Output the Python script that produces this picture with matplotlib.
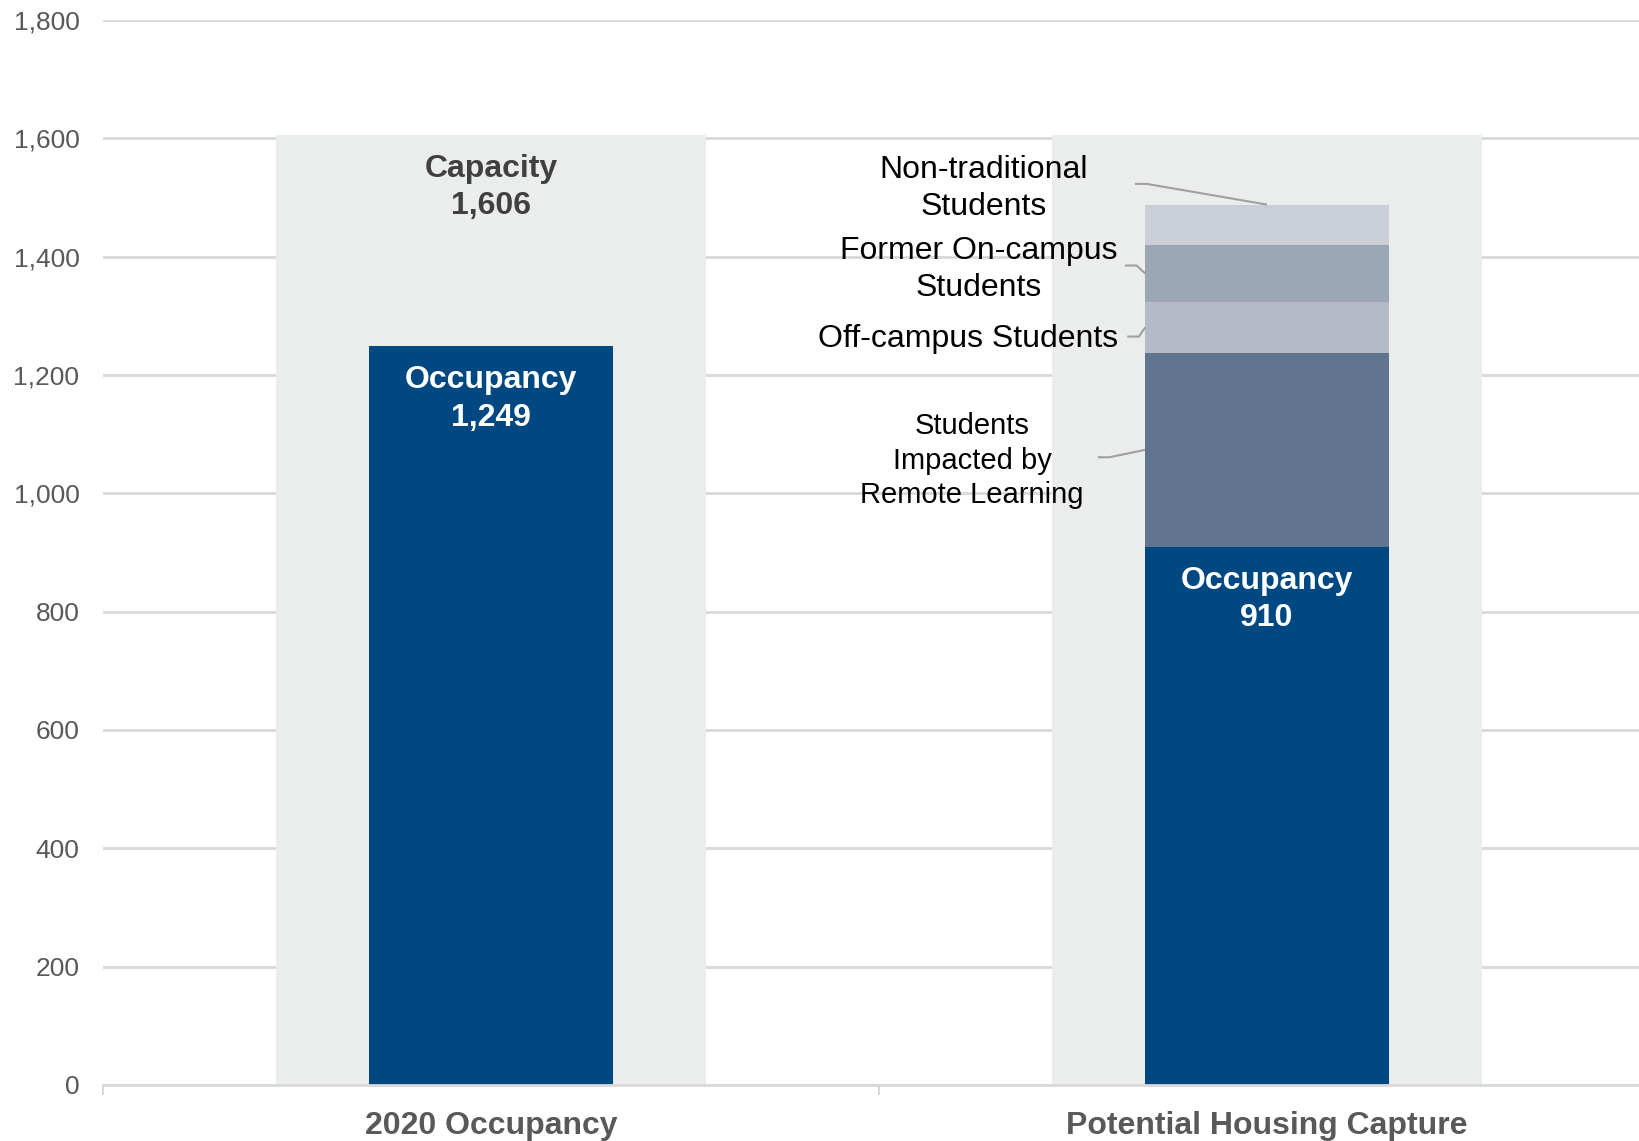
import numpy as np
import matplotlib.pyplot as plt
from matplotlib.ticker import FuncFormatter

plt.rcParams['font.family'] = ['Liberation Sans', 'DejaVu Sans']

categories = ["2020 Occupancy", "Potential Housing Capture"]
capacity = [1606, 1606]
occupancy = [1249, 910]

# extra segments stacked on the second bar
segment_names = ["Students\nImpacted by\nRemote Learning", "Off-campus Students",
                 "Former On-campus\nStudents", "Non-traditional\nStudents"]
segment_values = [327, 87, 95, 69]
segment_colors = ["#617590", "#B5BBC6", "#9BA7B4", "#CACFD7"]

blue = "#004882"
bg_gray = "#EBECEC"
grid_gray = "#D9D9D9"
text_gray = "#595959"

fig = plt.figure(figsize=(16.4, 11.41), dpi=100)
ax = fig.add_axes([103 / 1640, 56 / 1141, (1655 - 103) / 1640, 0.9334])

x = np.arange(len(categories))
bg_width = 0.554
bar_width = 0.314

ax.bar(x, capacity, width=bg_width, color=bg_gray, zorder=1)
ax.bar(x, occupancy, width=bar_width, color=blue, zorder=2)

bottom = occupancy[1]
seg_mids = []
for val, col in zip(segment_values, segment_colors):
    ax.bar(x[1], val, bottom=bottom, width=bar_width, color=col, zorder=2)
    seg_mids.append(bottom + val / 2)
    bottom += val
stack_top = bottom

# labels on bars
ax.annotate(f"Capacity\n{capacity[0]:,}", xy=(x[0], capacity[0]), xytext=(0, -38),
            textcoords="offset points", ha="center", va="center", linespacing=1.33,
            fontsize=23, fontweight="bold", color="#404040", zorder=3)
for xi, occ in zip(x, occupancy):
    ax.annotate(f"Occupancy\n{occ:,}", xy=(xi, occ), xytext=(0, -38),
                textcoords="offset points", ha="center", va="center", linespacing=1.33,
                fontsize=23, fontweight="bold", color="white", zorder=3)

# segment callouts: text position, line start, size
text_pos = [(0.62, 1055), (0.615, 1261), (0.628, 1378), (0.635, 1515)]
line_start = [(0.782, 1061), (0.82, 1265), (0.817, 1385), (0.830, 1523)]
font_sizes = [21, 23, 23, 23]
bar_left = x[1] - bar_width / 2
for i, name in enumerate(segment_names):
    ax.text(text_pos[i][0], text_pos[i][1], name, ha="center", va="center",
            fontsize=font_sizes[i], color="black", linespacing=1.3, zorder=4)
    sx, sy = line_start[i]
    if i == len(segment_names) - 1:
        ex, ey = x[1], stack_top
    else:
        ex, ey = bar_left, seg_mids[i]
    ax.plot([sx, sx + 0.015, ex], [sy, sy, ey], color="#A0A0A0", lw=1.5,
            zorder=4, solid_capstyle="butt")

ax.set_xlim(-0.5, 1.5)
ax.set_ylim(0, 1800)
ax.set_yticks(np.arange(0, 1801, 200))
ax.yaxis.set_major_formatter(FuncFormatter(lambda v, p: f"{int(v):,}"))
ax.grid(axis="y", color=grid_gray, lw=2)
ax.set_axisbelow(True)

ax.set_xticks(x)
ax.set_xticklabels(categories, fontsize=23, fontweight="bold", color=text_gray)
ax.set_xticks([-0.5, 0.5, 1.5], minor=True)
ax.tick_params(axis="x", which="major", length=0, pad=19)
ax.tick_params(axis="x", which="minor", length=7, width=1.5, color=grid_gray)
ax.tick_params(axis="y", length=0, pad=17, labelsize=19, labelcolor=text_gray)

for s in ["top", "right", "left"]:
    ax.spines[s].set_visible(False)
ax.spines["bottom"].set_color(grid_gray)
ax.spines["bottom"].set_linewidth(2)

fig.savefig("out.png", dpi=100)
